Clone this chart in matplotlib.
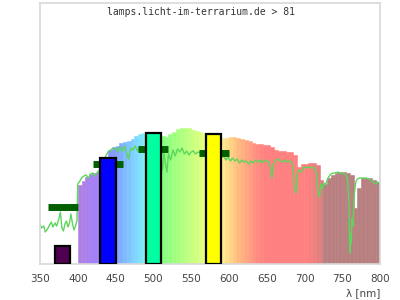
import matplotlib
matplotlib.use("Agg")
import matplotlib.pyplot as plt
from matplotlib.colors import LinearSegmentedColormap

# lamp spectrum, 5 nm bins starting at each wavelength
lamp_wl = list(range(400, 800, 5))
lamp_val = [79, 83, 87, 90, 91, 92, 94, 104, 114, 117,
            118, 121, 122, 123, 125, 128, 130, 131, 131, 131,
            131, 130, 128, 127, 130, 132, 135, 136, 136, 136,
            134, 133, 132, 131, 130, 129, 128, 127, 126, 126,
            127, 127, 126, 125, 124, 123, 121, 120, 120, 119,
            119, 117, 114, 113, 113, 112, 112, 109, 97, 100,
            100, 101, 101, 99, 84, 80, 86, 89, 91, 92,
            92, 91, 89, 56, 76, 86, 86, 86, 84, 82]

# sunlight reference curve
sun_wl = [350, 352, 355, 357, 360, 362, 365, 367, 370, 372, 375, 377, 379, 381,
          383, 385, 387, 389, 391, 393, 395, 397, 399, 400, 402, 405, 408, 411,
          414, 417, 420, 423, 426, 430, 435, 440, 445, 450, 453, 456, 459, 462,
          465, 467, 470, 473, 476, 479, 482, 485, 488, 492, 496, 500, 504, 508,
          510, 512, 514, 516, 518, 520, 523, 526, 529, 532, 535, 538, 541, 544,
          547, 550, 553, 556, 559, 562, 565, 570, 575, 580, 585, 590, 593, 596,
          599, 602, 605, 608, 611, 614, 617, 620, 623, 626, 629, 632, 635, 638,
          641, 644, 647, 650, 653, 655, 657, 659, 662, 665, 668, 671, 674, 677,
          680, 683, 685, 687, 689, 691, 693, 696, 699, 702, 705, 708, 711, 714,
          716, 718, 720, 722, 724, 726, 728, 730, 732, 735, 738, 741, 744, 747,
          750, 753, 755, 757, 759, 760, 761, 762, 763, 764, 766, 768, 770, 773,
          776, 779, 782, 785, 788, 791, 794, 797, 800]
sun_val = [40, 36, 38, 32, 35, 38, 42, 37, 41, 38, 45, 52, 36, 33,
           40, 43, 37, 41, 50, 40, 34, 38, 44, 80, 82, 86, 88, 89,
           86, 90, 91, 88, 92, 95, 105, 112, 115, 116, 112, 117, 113, 118,
           110, 105, 116, 114, 118, 113, 117, 115, 116, 115, 116, 114, 115, 113,
           108, 94, 112, 100, 92, 110, 104, 114, 108, 115, 112, 116, 110, 113,
           109, 112, 113, 110, 112, 111, 110, 110, 109, 108, 108, 106, 108, 104,
           107, 103, 106, 103, 105, 101, 104, 102, 103, 100, 103, 101, 104, 102,
           104, 101, 104, 103, 102, 96, 86, 100, 104, 105, 103, 102, 104, 102,
           103, 102, 96, 75, 71, 92, 94, 92, 97, 96, 97, 96, 97, 95,
           90, 72, 67, 80, 76, 81, 79, 84, 87, 90, 91, 91, 92, 91,
           91, 90, 89, 86, 60, 11, 30, 20, 45, 38, 70, 82, 85, 86,
           86, 86, 86, 85, 84, 82, 80, 82, 81]

# lamp bands: start, end, height
band_start = [370, 430, 490, 570]
band_end = [390, 450, 510, 590]
band_val = [18, 106, 131, 130]
band_colors = ["#500050", "#0000ff", "#00ffa0", "#ffff00"]

# sun averages over ranges
avg_start = [360, 420, 480, 560]
avg_end = [400, 460, 520, 600]
avg_val = [57.5, 100, 115, 111]

title = "lamps.licht-im-terrarium.de > 81"
xticks = [350, 400, 450, 500, 550, 600, 650, 700, 750, 800]

stops = [(400, "#b080e0"), (430, "#a080ff"), (450, "#80a0ff"), (485, "#80e8ff"),
         (510, "#80ff80"), (565, "#e0ff80"), (590, "#fff090"), (610, "#ffc080"),
         (635, "#ff9080"), (650, "#ff8080"), (705, "#ff8080"), (724.9, "#d88080"),
         (725, "#b88080"), (800, "#b88080")]
cmap = LinearSegmentedColormap.from_list(
    "spec", [((w - 400) / 400, c) for w, c in stops])

fig = plt.figure(figsize=(4, 3), dpi=100)
ax = fig.add_axes([0.1, 0.12, 0.85, 0.87])

colors = [cmap((w + 2.5 - 400) / 400) for w in lamp_wl]
ax.bar(lamp_wl, lamp_val, width=5, align="edge", color=colors,
       edgecolor=colors, linewidth=0.4, zorder=1)

ax.plot(sun_wl, sun_val, color="#5cd65c", lw=1, zorder=2)

ax.hlines(avg_val, avg_start, avg_end, color="#006000", lw=5, capstyle="butt", zorder=3)

for s, e, v, c in zip(band_start, band_end, band_val, band_colors):
    ax.bar(s, v, width=e - s, align="edge", color=c, edgecolor="black",
           linewidth=1.6, zorder=4)

ax.set_xlim(350, 800)
ax.set_ylim(0, 261)
ax.set_xticks(xticks)
ax.set_yticks([])
ax.tick_params(axis="x", length=0, pad=7, labelsize=7.5, labelcolor="#444444")
for sp in ax.spines.values():
    sp.set_color("#d8d8d8")
    sp.set_linewidth(1.2)

fig.text(0.502, 0.96, title, ha="center", va="center", family="DejaVu Sans Mono",
         fontsize=7, color="#333333")
fig.text(0.95, 0.005, "λ [nm]", ha="right", va="bottom", fontsize=7.5, color="#444444")

fig.savefig("out.png", dpi=100)
